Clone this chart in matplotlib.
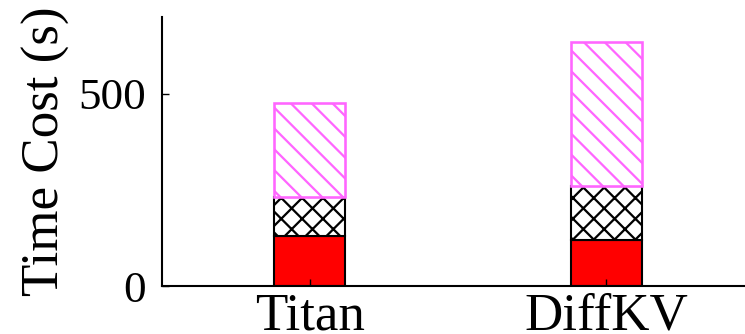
import matplotlib
matplotlib.use("Agg")
from matplotlib import pyplot as plt
import numpy as np

systems = ["Titan", "DiffKV"]
part_bottom = [130, 121]   # solid red
part_middle = [102, 139]   # black cross hatch
part_top = [245, 375]      # violet diagonal hatch

plt.rcParams['font.family'] = ['Liberation Serif', 'DejaVu Serif']
plt.rcParams['hatch.linewidth'] = 1.3

DPI = 125
fig = plt.figure(figsize=(745 / DPI, 334 / DPI), dpi=DPI)
ax = fig.add_axes([161.5 / 745, 48 / 334, 1 - 161.5 / 745, 269 / 334])

x = np.arange(len(systems))
w = 0.24
bottom = np.array(part_bottom)
middle = np.array(part_middle)

ax.bar(x, part_bottom, w, color='#ff0000', edgecolor='black', linewidth=1.2)
ax.bar(x, part_middle, w, bottom=bottom, color='white', edgecolor='black',
       hatch='xx', linewidth=1.2)
plt.rcParams['hatch.color'] = '#ff66ff'
ax.bar(x, part_top, w, bottom=bottom + middle, color='white', edgecolor='#ff66ff',
       hatch='\\\\', linewidth=1.5)

ax.set_xlim(-0.5, 1.467)
ax.set_ylim(0, 700)
ax.set_yticks([0, 500])
ax.set_xticks(x)
ax.set_xticklabels(systems, fontsize=30.5)
ax.tick_params(axis='y', labelsize=26, direction='in', length=4, pad=9)
ax.tick_params(axis='x', direction='in', length=4, pad=4)
ax.set_ylabel('Time Cost (s)', fontsize=30.5)
ax.yaxis.set_label_coords(-0.157, 0.5)

for s in ['top', 'right']:
    ax.spines[s].set_visible(False)
for s in ['left', 'bottom']:
    ax.spines[s].set_linewidth(1.2)

fig.savefig('out.png', dpi=DPI)
